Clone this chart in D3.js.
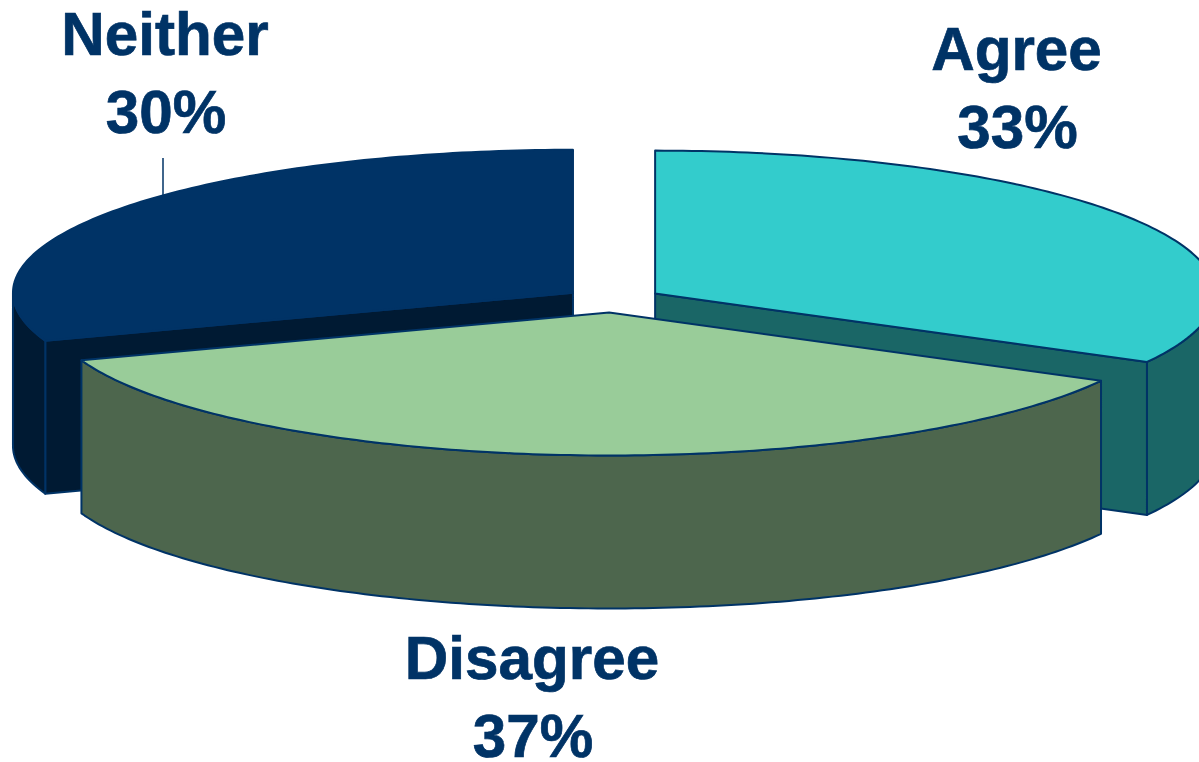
<!DOCTYPE html>
<html><head><meta charset="utf-8">
<script src="https://cdn.jsdelivr.net/npm/d3@7"></script>
<style>html,body{margin:0;padding:0;background:#fff;overflow:hidden}svg{display:block}</style>
</head><body><svg id="c" width="1199" height="762"></svg>
<script>
const categories = ["Agree", "Disagree", "Neither"];
const values = [32.9, 36.6, 30.4];
const topColors = ["#33cccc", "#99cc99", "#003366"];
const wallColors = ["#1a6666", "#4d664d", "#001a33"];
const labelFont = 'bold 60.2px "Liberation Sans", Arial, sans-serif';
const labelCentres = [[1016.5, 70], [532, 679], [165, 55]];
const labelGap = 78;

const cx = 613, cy = 300, rx = 560, ry = 143, depth = 153, explode = 49, ink = "#003366";
const svg = d3.select("#c");
const pie = d3.pie().sort(null).value(d => d.v);
const arcs = pie(categories.map((c, i) => ({c, v: values[i], i})));
const line = d3.line();

function apex(a) {
  const m = (a.startAngle + a.endAngle) / 2;
  return [cx + explode * Math.sin(m), cy - explode * (ry / rx) * Math.cos(m)];
}
function rim(a, t0, t1, drop = 0) {
  const [ax, ay] = apex(a), n = Math.max(2, Math.ceil(Math.abs(t1 - t0) * 60));
  return d3.range(n + 1).map(k => {
    const t = t0 + (t1 - t0) * k / n;
    return [ax + rx * Math.sin(t), ay - ry * Math.cos(t) + drop];
  });
}
function outerWall(a) {
  const lo = Math.max(a.startAngle, Math.PI / 2), hi = Math.min(a.endAngle, 3 * Math.PI / 2);
  if (hi <= lo) return null;
  return line(rim(a, lo, hi).concat(rim(a, hi, lo, depth))) + "Z";
}
function cutWall(a, t) {
  const [ax, ay] = apex(a), p = rim(a, t, t)[0];
  return line([[ax, ay], p, [p[0], p[1] + depth], [ax, ay + depth]]) + "Z";
}
function topFace(a) {
  return line([apex(a)].concat(rim(a, a.startAngle, a.endAngle))) + "Z";
}
function drawSlice(a) {
  const g = svg.append("g");
  const i = a.data.i;
  const wall = (d) => g.append("path").attr("d", d).attr("fill", wallColors[i])
    .attr("stroke", ink).attr("stroke-width", 2).attr("stroke-linejoin", "round");
  if (a.startAngle > Math.PI) wall(cutWall(a, a.startAngle));
  if (a.endAngle < Math.PI) wall(cutWall(a, a.endAngle));
  const w = outerWall(a);
  if (w) wall(w);
  g.append("path").attr("d", topFace(a)).attr("fill", topColors[i])
    .attr("stroke", ink).attr("stroke-width", 2).attr("stroke-linejoin", "round");
}
[arcs[2], arcs[0], arcs[1]].forEach(drawSlice);

// leader line of the Neither label
svg.append("line").attr("x1", 163).attr("x2", 163).attr("y1", 158).attr("y2", 196)
  .attr("stroke", ink).attr("stroke-width", 1.5);

arcs.forEach((a, i) => {
  const [x, y] = labelCentres[i];
  const t = svg.append("text").attr("text-anchor", "middle").attr("fill", ink)
    .attr("stroke", ink).attr("stroke-width", 0.7).style("font", labelFont);
  t.append("tspan").attr("x", x).attr("y", y).text(categories[i]);
  t.append("tspan").attr("x", x + 1).attr("y", y + labelGap).text(d3.format(".0f")(values[i]) + "%");
});
</script></body></html>
